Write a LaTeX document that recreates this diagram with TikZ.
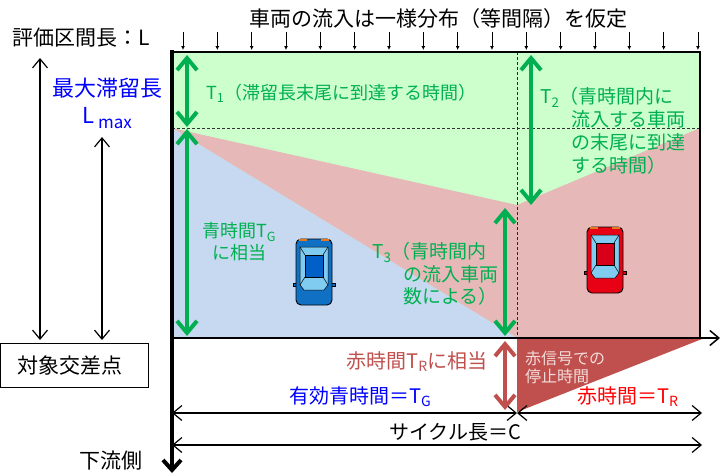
\documentclass[tikz,border=0pt]{standalone}
\usepackage{fontspec}
\setmainfont{Noto Sans CJK JP}
\usetikzlibrary{arrows.meta}
\definecolor{green}{RGB}{0, 176, 80}
\definecolor{blue}{RGB}{0, 0, 255}
\definecolor{red}{RGB}{255, 0, 0}
\definecolor{darkred}{RGB}{192, 80, 77}
\definecolor{palered}{RGB}{242, 220, 219}
\definecolor{lightgreen}{RGB}{204, 255, 204}
\definecolor{lightred}{RGB}{230, 185, 184}
\definecolor{lightblue}{RGB}{198, 217, 241}
\definecolor{glass}{RGB}{128, 204, 240}
\definecolor{carblue}{RGB}{16, 112, 196}
\definecolor{carbluetop}{RGB}{0, 96, 200}
\definecolor{carred}{RGB}{232, 0, 20}
\definecolor{carredtop}{RGB}{215, 0, 24}
\definecolor{lamp}{RGB}{230, 120, 30}

\newcommand{\fsz}[1]{\fontsize{#1}{#1}\selectfont}

\tikzset{
  txt/.style={inner sep=0pt, anchor=base},
  dimarrow/.style={line width=1.2pt, {Straight Barb[length=9pt,width=15pt]}-{Straight Barb[length=9pt,width=15pt]}},
  timearrow/.style={line width=4pt, draw=green, {Straight Barb[length=12pt,width=20pt]}-{Straight Barb[length=12pt,width=20pt]}},
}

\begin{document}
\begin{tikzpicture}[x=1pt, y=-1pt]
  \useasboundingbox (0,0) rectangle (720,474);

  % Green / red / blue time areas
  \fill[lightgreen] (172,52) rectangle (700,338);
  \fill[lightred] (172,128) -- (517,205) -- (700,128) -- (700,338) -- (517,338) -- cycle;
  \fill[lightblue] (172,128) -- (517,338) -- (172,338) -- cycle;
  \draw[line width=0.8pt, dash pattern=on 3pt off 2pt, black!80] (172,128) -- (700,128);
  \draw[line width=0.8pt, dash pattern=on 3pt off 2pt, black!70!brown] (517,52) -- (517,338);

  % Stop time under red
  \fill[darkred] (517,339) -- (702,339) -- (517,412) -- cycle;

  % Frame and axes
  \draw[line width=2pt] (172,52) -- (700,52) -- (700,338);
  \draw[line width=1.5pt, -{Straight Barb[length=9pt,width=15pt]}] (172,338) -- (720,338);
  \draw[line width=4pt, -{Straight Barb[length=10pt,width=18pt]}] (172,50) -- (172,473);

  % Arriving vehicles
  \foreach \i in {0,...,15} {
    \draw[line width=0.8pt, -{Latex[length=4pt,width=4pt]}] ({183+34.33*\i},32) -- ++(0,18);
  }

  % Cars
  \foreach \cx/\cy/\body/\roof in {314/272/carblue/carbluetop, 605/260/carred/carredtop} {
    \begin{scope}[shift={(\cx,\cy)}]
      \draw[fill=\body, line width=0.6pt] (-21,11) rectangle (-17,14);
      \draw[fill=\body, line width=0.6pt] (17,11) rectangle (21,14);
      \draw[fill=\body, line width=0.9pt, rounded corners=5pt] (-18,-33) rectangle (18,33);
      \fill[lamp] (-15,-33) rectangle (-7,-31);
      \fill[lamp] (7,-33) rectangle (15,-31);
      \draw[fill=glass, line width=0.5pt] (-14,-25) -- (14,-25) -- (14,13) -- (10,18) -- (-10,18) -- (-14,13) -- cycle;
      \draw[fill=\roof, line width=0.5pt] (-9,-17) rectangle (9,5);
      \draw[line width=0.5pt] (-14,-25) -- (-9,-17) (14,-25) -- (9,-17) (-9,5) -- (-14,13) (9,5) -- (14,13);
    \end{scope}
  }

  % Length arrows on the left
  \draw[dimarrow] (40,58) -- (40,340);
  \draw[dimarrow] (102,137) -- (102,340);

  % Time arrows below
  \draw[dimarrow] (172,413) -- (517,413);
  \draw[dimarrow] (517,413) -- (702,413);
  \draw[dimarrow] (172,445) -- (702,445);

  % T1, T2, T3
  \draw[timearrow] (187,55) -- (187,127);
  \draw[timearrow] (187,129) -- (187,336);
  \draw[timearrow] (531,55) -- (531,205);
  \draw[timearrow] (505,208) -- (505,336);
  \draw[timearrow, draw=darkred] (505,341) -- (505,410);

  % Labels
  \node[txt] (title) at (438,26) {\fsz{21}車両の流入は一様分布（等間隔）を仮定};
  \node[txt, anchor=base west] (evallen) at (12,45.5) {\fsz{21}評価区間長：L};
  \node[txt, blue] (maxname) at (107,96) {\fsz{22}最大滞留長};
  \node[txt, blue, anchor=base west] (lmax) at (82,123) {\fsz{22}L\hspace{4pt}\raisebox{-5pt}{\fsz{17}max}};
  \node[txt, anchor=base west, green] (tone) at (206,99.3) {\fsz{18}T\textsubscript{1}（滞留長末尾に到達する時間）};

  \node[txt, anchor=base west, green] (ttwo) at (540,103.7) {\fsz{19}T\textsubscript{2}（青時間内に};
  \foreach \line [count=\i] in {流入する車両, の末尾に到達, する時間）} {
    \node[txt, anchor=base west, green] (ttwo\i) at (571,{103.7+23*\i}) {\fsz{19}\line};
  }

  \node[txt, green] (tgreen) at (239,237.8) {\fsz{18}青時間T\textsubscript{G}};
  \node[txt, green] (tgreenb) at (239,259.3) {\fsz{18}に相当};

  \node[txt, anchor=base west, green] (tthree) at (372,258.7) {\fsz{19}T\textsubscript{3}（青時間内};
  \foreach \line [count=\i] in {の流入車両, 数による）} {
    \node[txt, anchor=base west, green] (tthree\i) at (403,{258.7+22.5*\i}) {\fsz{19}\line};
  }

  \node[txt, anchor=base east, darkred] (tred) at (488,368.6) {\fsz{20}赤時間T\textsubscript{R}に相当};
  \node[txt, anchor=base west, palered] (stopa) at (525,364.6) {\fsz{16}赤信号での};
  \node[txt, anchor=base west, palered] (stopb) at (525,382.6) {\fsz{16}停止時間};
  \node[txt, anchor=base west, blue] (effgreen) at (289,403.5) {\fsz{20}有効青時間＝T\textsubscript{G}};
  \node[txt, anchor=base west, red] (redtime) at (577,403.5) {\fsz{20}赤時間＝T\textsubscript{R}};
  \node[txt, anchor=base west] (cycle) at (389,439) {\fsz{20}サイクル長＝C};

  \node[draw, line width=1pt, minimum width=148pt, minimum height=44pt, inner sep=0pt] (target) at (74,365) {};
  \node[txt] (targetname) at (70,373) {\fsz{21}対象交差点};
  \node[txt] (down) at (111,468) {\fsz{21}下流側};
\end{tikzpicture}
\end{document}
